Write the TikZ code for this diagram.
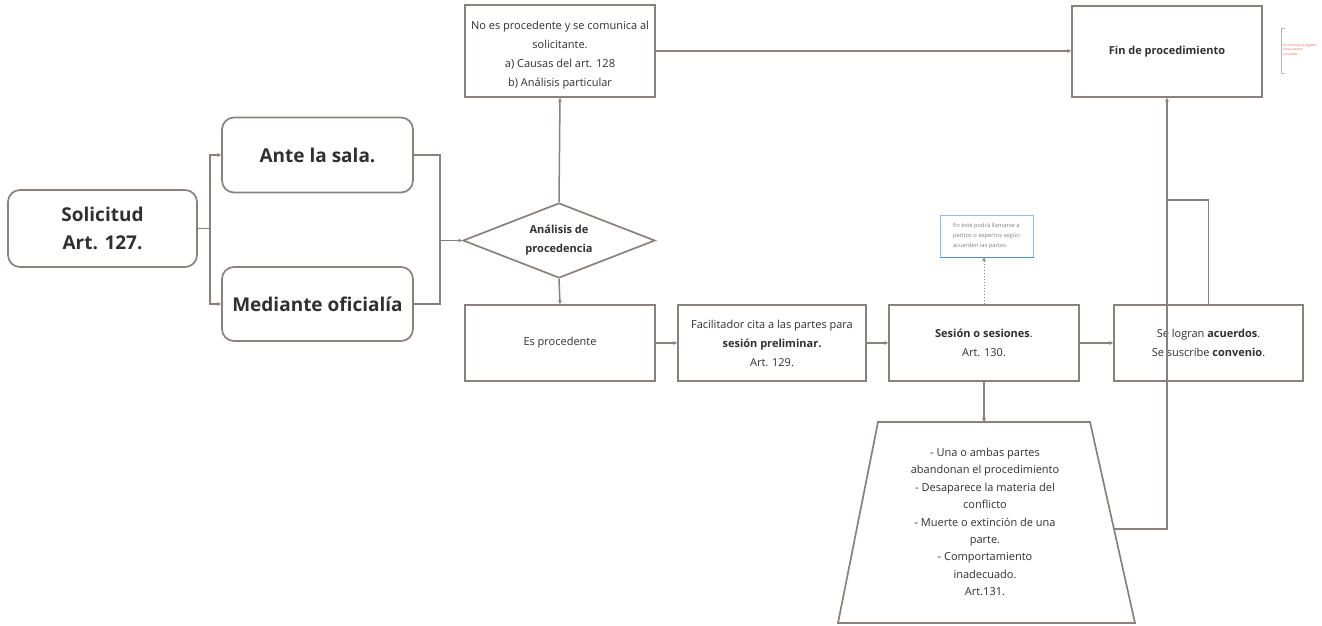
\documentclass[tikz,border=0pt]{standalone}
\usepackage{fontspec}
\setmainfont{Open Sans}
\usetikzlibrary{arrows.meta,shapes.geometric}
\definecolor{linec}{HTML}{8A807F}
\definecolor{txt}{HTML}{303030}
\definecolor{notec}{HTML}{4A90D9}
\definecolor{redc}{HTML}{E0533D}
\begin{document}
\begin{tikzpicture}[x=1pt,y=-1pt,
  box/.style={draw=linec, line width=1.7pt, fill=white, inner sep=0pt, align=center, text=txt,
    font=\fontsize{11}{19}\selectfont},
  rbox/.style={box, rounded corners=12pt, font=\bfseries\fontsize{19}{28}\selectfont},
  conn/.style={draw=linec, line width=1.5pt},
  arr/.style={conn, -{Stealth[length=4pt,width=4pt]}},
]
\useasboundingbox (0,0) rectangle (1322,625);

% left part
\node[rbox, minimum width=189pt, minimum height=77pt] (sol) at (102.5,228.5) {Solicitud\\Art. 127.};
\node[rbox, minimum width=191pt, minimum height=75pt] (ante) at (317.5,155) {Ante la sala.};
\node[rbox, minimum width=191pt, minimum height=74pt] (med) at (317.5,304) {Mediante oficialía};

% diamond
\node[box, diamond, aspect=2.56, minimum width=192pt, minimum height=75pt,
      font=\bfseries\fontsize{11}{19}\selectfont] (dia) at (559,240.5) {Análisis de\\procedencia};

% top boxes
\node[box, minimum width=190pt, minimum height=92pt] (noes) at (560,51)
  {\rule{0pt}{16pt}No es procedente y se comunica al\\solicitante.\\a) Causas del art. 128\\b) Análisis particular};
\node[box, minimum width=190pt, minimum height=91pt, font=\bfseries\fontsize{11}{19}\selectfont] (fin) at (1167,51.5) {Fin de procedimiento};

% middle row
\node[box, minimum width=190pt, minimum height=76pt] (es) at (560,343) {Es procedente};
\node[box, minimum width=188pt, minimum height=76pt] (fac) at (772,343)
  {Facilitador cita a las partes para\\\textbf{sesión preliminar.}\\Art. 129.};
\node[box, minimum width=190pt, minimum height=76pt] (ses) at (984,343)
  {\textbf{Sesión o sesiones}.\\Art. 130.};
\node[box, minimum width=189pt, minimum height=76pt] (log) at (1208.5,343)
  {Se logran \textbf{acuerdos}.\\Se suscribe \textbf{convenio}.};

% note
\node[draw=notec!60, line width=1pt, fill=white, inner sep=0pt, minimum width=93pt, minimum height=42pt,
      align=left, text=gray, font=\fontsize{5.8}{9.8}\selectfont] (note) at (986.5,236)
  {En éste podrá llamarse a\\peritos o expertos según\\acuerden las partes.};
\draw[notec, line width=1.8pt] (note.south west) -- (note.south east);

% trapezoid
\coordinate (tl) at (878,422);
\coordinate (tr) at (1090,422);
\coordinate (br) at (1135,623);
\coordinate (bl) at (838,623);
\coordinate (trtop) at (984,422);
\coordinate (trR) at (1114,529);
\draw[draw=linec, line width=1.7pt, fill=white] (tl) -- (tr) -- (br) -- (bl) -- cycle;
\node[text=txt, align=center, font=\fontsize{11}{17.4}\selectfont] (cond) at (985,522)
  {- Una o ambas partes\\abandonan el procedimiento\\- Desaparece la materia del\\conflicto\\- Muerte o extinción de una\\parte.\\- Comportamiento\\inadecuado.\\Art.131.};

% red comment
\draw[draw=linec!60, line width=0.6pt] (1285,28) -- (1281,28) -- (1281,73) -- (1285,73);
\node[text=redc, align=left, inner sep=0pt, anchor=west, font=\fontsize{3.2}{4.6}\selectfont] (com) at (1283,49.5)
  {Se concluye el registro\\como asunto\\concluido.};

% connectors
\coordinate (j1) at (210,228.5);
\draw[conn] (sol.east) -- (j1);
\draw[arr] (j1) |- (ante.west);
\draw[arr] (j1) |- (med.west);
\coordinate (j2) at (440,240.5);
\draw[conn] (ante.east) -| (j2);
\draw[conn] (med.east) -| (j2);
\draw[arr] (j2) -- (dia.west);
\draw[arr] (dia.north) -- (noes.south);
\draw[arr] (dia.south) -- (es.north);
\draw[arr] (noes.east) -- (noes.east -| fin.west);
\draw[arr] (es) -- (fac);
\draw[arr] (fac) -- (ses);
\draw[arr] (ses) -- (log);
\draw[arr] (ses.south) -- (trtop);
\draw[draw=linec, line width=1pt, dotted, -{Stealth[length=4pt,width=4pt]}] (ses.north) -- (note.south -| ses.north);
\coordinate (k) at (1167,200);
\draw[arr] (log.north) |- (k) -- (fin.south);
\draw[conn] (trR) -| (k);
\end{tikzpicture}
\end{document}
